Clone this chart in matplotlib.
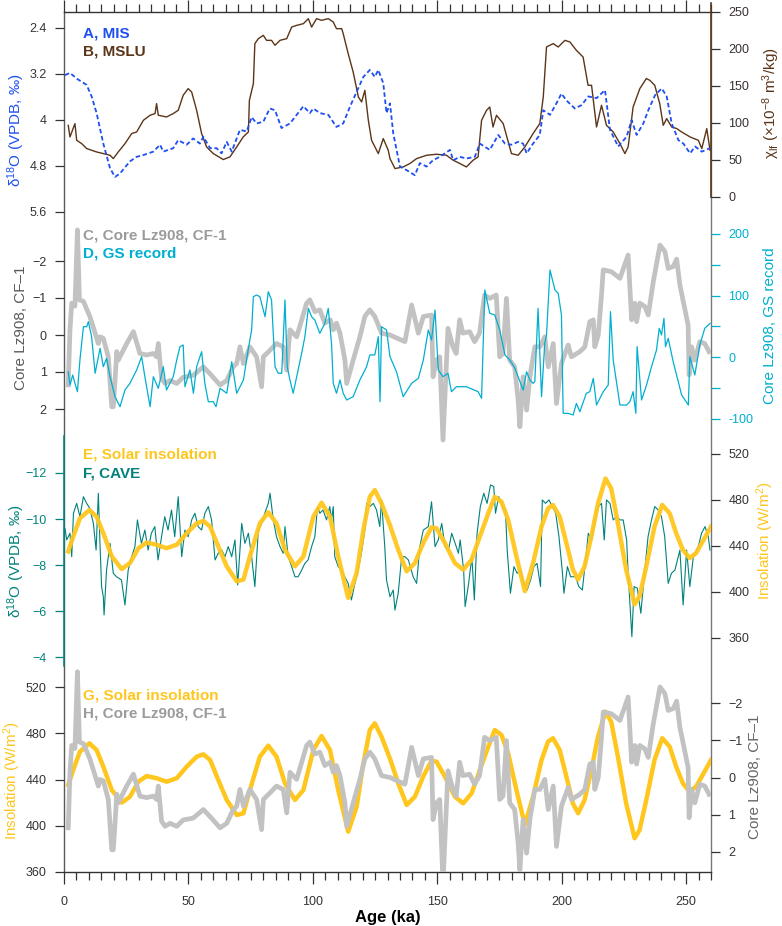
import matplotlib
matplotlib.use("Agg")
import matplotlib.pyplot as plt
from matplotlib.ticker import MultipleLocator

# ---------------- data ----------------
# A, MIS (benthic d18O stack)
mis_age = [0.4, 2.4, 5.1, 9.1, 11.1, 13.1, 15.8, 18.5, 20.5, 22.5,
           26.5, 29.2, 31.9, 35.9, 38.6, 39.9, 43.9, 45.9, 49.3, 51.9,
           54.6, 56.0, 58.7, 61.3, 63.3, 65.4, 67.4, 70.7, 73.4, 75.4,
           77.4, 80.1, 82.7, 84.8, 87.4, 90.8, 93.5, 96.2, 98.8, 100.2,
           102.8, 106.2, 109.5, 112.2, 114.9, 117.6, 120.3, 122.9, 124.9, 126.3,
           128.3, 129.6, 131.0, 132.3, 135.0, 137.6, 141.0, 143.0, 145.7, 148.3,
           151.0, 155.1, 156.4, 159.1, 161.7, 165.1, 167.1, 171.1, 174.5, 177.2,
           179.8, 182.5, 184.5, 185.9, 188.5, 191.2, 192.6, 195.3, 197.9, 199.9,
           201.9, 205.3, 208.0, 210.7, 214.0, 217.4, 219.4, 222.7, 226.1, 228.1,
           230.1, 232.8, 234.8, 237.5, 240.2, 242.2, 244.2, 246.9, 248.9, 251.6,
           253.6, 256.3, 259.6]
mis_d18o = [3.22, 3.18, 3.28, 3.39, 3.59, 3.88, 4.41, 4.84, 4.99, 4.93,
            4.72, 4.64, 4.61, 4.55, 4.43, 4.55, 4.49, 4.35, 4.43, 4.32,
            4.41, 4.29, 4.49, 4.49, 4.58, 4.38, 4.55, 4.17, 4.20, 3.95,
            4.06, 4.03, 3.80, 3.83, 4.14, 4.06, 3.91, 3.76, 3.88, 3.80,
            3.88, 3.91, 4.12, 4.06, 3.77, 3.51, 3.25, 3.13, 3.25, 3.13,
            3.36, 3.88, 3.71, 4.23, 4.81, 4.87, 4.96, 4.75, 4.81, 4.70,
            4.64, 4.52, 4.70, 4.64, 4.67, 4.64, 4.41, 4.52, 4.26, 4.41,
            4.43, 4.38, 4.41, 4.58, 4.41, 4.26, 3.83, 3.91, 3.71, 3.54,
            3.66, 3.80, 3.74, 3.59, 3.62, 3.48, 4.17, 4.46, 4.29, 4.00,
            4.26, 4.06, 3.83, 3.57, 3.45, 3.59, 4.06, 4.35, 4.41, 4.58,
            4.46, 4.55, 4.49]

# B, MSLU magnetic susceptibility
mslu_age = [1.7, 2.4, 4.4, 5.1, 7.1, 9.1, 11.1, 13.1, 15.8, 18.5,
            19.8, 21.8, 24.5, 27.2, 29.2, 31.9, 34.6, 36.6, 37.2, 37.9,
            41.2, 43.9, 45.9, 47.9, 49.9, 51.3, 53.3, 55.3, 57.3, 60.0,
            64.0, 66.7, 69.4, 72.0, 74.1, 74.5, 76.1, 76.7, 78.1, 80.1,
            81.4, 83.4, 84.8, 86.8, 89.5, 91.5, 93.5, 96.2, 98.2, 99.5,
            101.5, 103.5, 106.2, 108.2, 109.5, 111.6, 112.2, 114.2, 116.2, 118.3,
            119.6, 120.9, 122.3, 123.6, 126.3, 128.3, 130.3, 131.0, 133.0, 136.3,
            139.0, 141.7, 145.7, 149.7, 153.7, 156.4, 159.1, 161.7, 164.4, 166.4,
            167.8, 169.8, 171.1, 172.4, 173.8, 176.5, 179.8, 182.5, 185.2, 188.5,
            191.2, 192.6, 193.9, 196.6, 198.6, 201.3, 203.3, 205.9, 208.6, 210.6,
            212.0, 214.0, 216.0, 218.0, 220.7, 223.4, 225.4, 226.7, 228.7, 231.4,
            234.0, 235.4, 237.4, 239.4, 240.8, 242.2, 244.2, 246.2, 248.2, 251.6,
            254.9, 256.3, 258.3, 259.6]
mslu_chi = [96.5, 80.7, 98.8, 76.2, 71.7, 65.0, 62.7, 60.4, 58.2, 55.9,
            51.4, 60.4, 71.7, 85.3, 87.5, 103.3, 110.1, 112.4, 125.9, 110.1,
            107.8, 112.4, 116.8, 137.2, 146.2, 141.6, 116.8, 85.3, 67.2, 58.2,
            50.1, 53.8, 67.2, 80.7, 87.5, 130.4, 153.0, 207.2, 213.9, 218.4,
            211.6, 211.6, 204.9, 211.6, 213.9, 229.6, 231.9, 234.2, 241.0, 229.6,
            241.0, 238.7, 241.0, 236.4, 227.4, 227.4, 220.7, 193.6, 168.7, 134.9,
            128.1, 143.9, 103.3, 76.2, 58.2, 78.5, 62.7, 51.4, 37.9, 40.1,
            44.7, 51.4, 55.9, 57.3, 55.9, 49.2, 44.7, 40.1, 49.2, 53.6,
            103.3, 116.8, 121.3, 94.2, 110.1, 98.8, 58.2, 55.9, 67.2, 85.3,
            98.8, 134.9, 202.6, 207.2, 202.6, 211.6, 209.4, 198.1, 189.0, 150.7,
            150.7, 94.2, 123.6, 96.5, 87.5, 71.8, 58.2, 67.2, 121.3, 146.2,
            159.8, 157.5, 150.7, 125.9, 96.5, 105.6, 94.2, 92.1, 87.5, 80.7,
            76.2, 65.0, 92.1, 62.7]

# C / H, Core Lz908 CF-1
core_age = [1.7, 2.4, 3.1, 4.4, 5.4, 6.2, 7.8, 10.4, 13.8, 14.5,
            15.8, 17.8, 19.2, 19.8, 20.5, 21.2, 21.8, 25.2, 27.9, 30.5,
            33.2, 35.9, 37.2, 37.9, 39.2, 40.6, 42.6, 45.3, 47.9, 51.9,
            56.0, 58.7, 62.7, 65.4, 68.0, 69.4, 70.7, 72.1, 74.7, 77.4,
            79.4, 80.1, 82.8, 85.4, 88.1, 89.5, 90.8, 93.5, 95.5, 97.5,
            98.8, 100.8, 102.8, 104.8, 107.0, 108.2, 109.5, 110.9, 112.9, 113.6,
            116.2, 118.9, 120.9, 122.9, 124.9, 127.6, 131.0, 137.0, 139.7, 142.4,
            144.4, 147.7, 148.3, 149.7, 151.0, 152.3, 153.6, 154.3, 156.3, 157.6,
            159.0, 160.3, 163.0, 165.0, 167.0, 169.0, 171.1, 173.7, 175.1, 176.4,
            177.8, 179.1, 181.1, 182.5, 183.2, 184.5, 185.9, 187.2, 189.2, 191.2,
            193.2, 194.6, 196.6, 197.9, 199.9, 202.6, 203.9, 207.3, 209.3, 211.3,
            212.7, 213.3, 214.7, 216.0, 216.7, 220.0, 223.4, 226.7, 228.1, 229.4,
            230.1, 231.4, 233.4, 234.8, 236.8, 239.5, 241.5, 242.8, 244.8, 246.2,
            247.5, 250.8, 251.2, 252.2, 253.5, 255.5, 257.5, 259.2]
core_cf1 = [1.35, -0.14, -0.86, -0.78, -2.84, -0.95, -0.91, -0.50, 0.23, 0.05,
            0.09, 0.59, 1.94, 1.94, 1.23, 0.45, 0.68, 0.23, -0.09, 0.50,
            0.54, 0.50, 0.59, 0.23, 1.17, 1.31, 1.23, 1.31, 1.14, 1.09,
            0.86, 1.05, 1.35, 1.23, 0.86, 0.77, 0.32, 0.77, 0.32, 0.59,
            1.40, 0.59, 0.41, 0.23, 0.32, 0.95, -0.14, 0.05, -0.41, -0.86,
            -0.95, -0.63, -0.68, -0.32, -0.41, -0.14, -0.32, -0.05, 0.68, 1.31,
            0.68, 0.05, -0.50, -0.68, -0.50, -0.05, 0.00, 0.18, -0.81, -0.05,
            -0.50, -0.54, 1.13, 0.68, 0.59, 2.84, 0.86, -0.18, 0.32, 0.50,
            -0.41, -0.05, -0.09, 0.18, -0.05, -1.08, -0.99, -1.08, 0.59, 0.50,
            -0.99, 0.68, 0.86, 1.76, 2.48, 1.13, 2.03, 1.13, 0.32, 0.32,
            0.05, 0.86, 0.23, 1.85, 0.77, 0.27, 0.59, 0.45, 0.32, -0.36,
            -0.41, 0.32, 0.00, -1.08, -1.76, -1.71, -1.53, -2.16, -0.41, -0.86,
            -0.36, -0.86, -0.77, -0.54, -1.44, -2.43, -2.25, -1.80, -1.85, -2.05,
            -1.35, -0.27, 1.08, 0.32, 0.68, 0.18, 0.23, 0.45]

# D, GS record
gs_age = [1.7, 2.4, 3.5, 4.4, 5.4, 6.4, 7.8, 9.1, 9.8, 11.1,
          12.5, 14.5, 15.8, 17.1, 18.5, 20.5, 22.5, 24.5, 26.5, 29.2,
          31.2, 32.5, 34.6, 35.9, 37.9, 39.9, 41.2, 43.9, 45.3, 46.6,
          47.9, 48.6, 50.6, 52.0, 53.3, 55.3, 56.6, 58.0, 60.0, 61.1,
          62.7, 65.4, 67.4, 69.4, 72.1, 74.1, 75.4, 76.1, 77.4, 78.7,
          80.8, 82.1, 83.4, 84.8, 86.1, 87.5, 88.8, 89.7, 90.8, 92.1,
          94.1, 95.5, 96.8, 98.2, 99.5, 100.8, 102.8, 104.8, 106.2, 107.5,
          108.2, 109.5, 110.9, 112.2, 113.6, 116.2, 118.9, 121.6, 122.9, 124.9,
          126.3, 127.0, 127.6, 129.6, 131.0, 133.6, 136.3, 139.7, 142.4, 144.4,
          146.4, 147.7, 149.1, 150.4, 152.3, 154.3, 155.7, 157.7, 161.7, 166.4,
          167.8, 169.1, 171.1, 173.1, 175.1, 177.2, 179.2, 181.2, 182.5, 184.5,
          185.9, 187.2, 188.5, 189.2, 190.5, 191.9, 193.2, 193.9, 195.3, 197.3,
          198.6, 199.9, 200.6, 202.6, 204.6, 205.9, 207.3, 209.9, 211.3, 212.7,
          214.0, 216.7, 218.7, 219.6, 220.7, 223.4, 226.1, 227.4, 228.7, 229.8,
          230.3, 232.1, 234.1, 236.1, 238.1, 239.2, 240.1, 241.1, 241.7, 242.8,
          244.8, 248.2, 250.9, 251.5, 253.5, 255.5, 257.5, 259.6]
gs_val = [-23.9, -45.5, -29.3, -42.8, -56.4, -4.9, 49.3, 49.3, 57.4, 33.0,
          -26.5, 14.1, -15.8, -2.1, -32.0, -64.5, -80.8, -53.7, -42.8, -21.1,
          0.5, -32.0, -80.8, -32.0, -50.9, -15.8, -53.7, -32.0, -4.9, 16.8,
          19.5, -48.3, -21.1, -59.0, -15.8, 8.6, -42.8, -72.7, -72.7, -80.8,
          -50.9, -59.0, -7.6, -59.0, -37.4, 14.1, 43.9, 98.1, 100.8, 98.1,
          65.5, 106.2, 92.7, -15.8, -26.5, -26.5, 92.7, -15.8, -37.4, -59.0,
          -21.1, 6.0, 33.0, 79.1, 65.5, 60.1, 38.5, 54.7, 79.1, 22.3,
          -42.8, -59.0, -37.4, -59.0, -69.9, -64.5, -37.4, -15.8, 3.3, 3.3,
          33.0, -72.7, 49.3, 43.9, 0.5, -23.9, -64.5, -42.8, -34.7, -4.9,
          43.9, 27.6, 76.4, -21.1, -32.0, -26.5, -56.4, -48.3, -48.3, -56.4,
          -67.2, 108.9, 71.0, 68.3, 43.9, 3.3, -4.9, -18.4, -32.0, -53.7,
          -23.9, -37.4, -42.8, -40.0, 79.1, -64.5, 22.3, 35.8, 141.5, 108.9,
          103.5, 68.3, -91.6, -91.6, -94.3, -75.4, -89.0, -59.0, -56.4, -34.7,
          -78.1, -56.4, -45.5, 73.7, -4.9, -78.1, -78.1, -72.7, -56.4, -91.6,
          16.8, -69.9, -45.5, -15.8, 11.4, 46.6, 35.8, 62.9, 16.8, 30.4,
          -7.6, -61.8, -78.1, 0.5, -29.3, 19.6, 46.6, 54.7]

# E / G, solar insolation
ins_age = [1.7, 3.7, 6.4, 10.2, 13.1, 15.8, 19.2, 23.2, 26.5, 29.9,
           33.2, 37.2, 41.2, 45.3, 49.3, 53.3, 56.0, 58.7, 62.0, 65.4,
           69.4, 72.1, 74.7, 78.7, 82.1, 85.4, 88.8, 92.8, 96.2, 100.2,
           103.5, 106.9, 110.2, 114.2, 117.6, 120.3, 122.9, 124.9, 127.6, 131.0,
           134.3, 137.7, 141.0, 144.3, 147.7, 149.7, 153.1, 157.1, 160.4, 163.8,
           167.1, 170.5, 173.1, 175.8, 178.5, 181.8, 185.2, 188.5, 191.9, 194.5,
           196.5, 199.2, 201.9, 204.5, 206.6, 209.2, 211.9, 214.6, 217.6, 219.9,
           222.6, 225.9, 229.3, 231.3, 234.0, 237.3, 240.4, 243.4, 246.0, 248.7,
           251.4, 254.0, 257.4, 260.0]
ins_val = [435.3, 448.2, 464.1, 471.3, 465.5, 451.1, 430.9, 420.0, 425.1, 438.1,
           443.0, 441.1, 438.1, 441.1, 451.1, 459.7, 461.8, 456.9, 439.6, 422.3,
           409.3, 410.8, 430.9, 459.7, 469.3, 459.7, 436.7, 422.3, 430.9, 465.5,
           477.6, 465.5, 430.9, 394.9, 416.5, 454.0, 482.8, 488.6, 477.0, 458.0,
           436.7, 418.0, 425.1, 442.4, 456.3, 455.4, 442.4, 425.1, 419.4, 428.1,
           448.2, 468.4, 482.8, 478.5, 462.7, 430.9, 400.7, 425.1, 456.9, 472.7,
           475.7, 465.5, 442.4, 419.4, 410.8, 422.3, 448.2, 477.0, 498.7, 490.0,
           459.7, 419.4, 389.2, 396.3, 422.3, 456.9, 475.7, 468.4, 451.1, 436.7,
           429.5, 433.8, 446.8, 456.9]

# F, CAVE speleothem d18O
cave_age = [0.4, 1.1, 2.4, 3.1, 3.8, 5.1, 6.4, 7.8, 9.1, 10.4,
            11.8, 12.9, 13.8, 14.5, 15.1, 15.8, 16.1, 17.1, 18.5, 19.8,
            21.1, 23.1, 24.5, 25.8, 27.2, 28.5, 29.5, 31.1, 32.5, 33.8,
            35.1, 36.5, 37.8, 39.2, 40.5, 41.8, 43.2, 44.5, 45.9, 47.3,
            48.6, 49.9, 51.3, 52.6, 53.9, 55.3, 56.6, 58.0, 59.3, 60.7,
            62.0, 63.4, 64.7, 66.0, 67.4, 68.7, 69.8, 71.4, 72.7, 74.1,
            75.4, 76.7, 78.1, 79.4, 80.7, 82.1, 82.8, 84.1, 85.4, 86.8,
            88.1, 88.8, 90.1, 91.5, 92.8, 94.1, 95.5, 96.8, 98.1, 99.5,
            100.8, 101.9, 102.8, 104.1, 105.5, 106.8, 107.5, 108.2, 108.8, 110.2,
            111.5, 112.8, 114.2, 115.5, 116.9, 118.2, 119.5, 120.9, 121.6, 122.9,
            124.3, 125.6, 126.9, 127.6, 128.9, 129.6, 131.0, 132.3, 133.0, 134.3,
            135.7, 137.0, 138.4, 140.3, 141.7, 143.0, 144.4, 146.4, 147.7, 149.1,
            150.4, 151.8, 153.1, 154.5, 155.8, 157.2, 158.5, 159.2, 160.6, 161.2,
            162.6, 163.9, 164.9, 166.0, 167.3, 168.7, 170.0, 171.4, 172.7, 173.4,
            174.7, 176.1, 177.4, 178.1, 179.4, 180.8, 182.1, 183.4, 184.8, 186.1,
            187.5, 188.8, 190.1, 191.5, 192.2, 193.5, 194.9, 196.2, 197.6, 198.9,
            200.2, 200.9, 202.3, 203.6, 205.6, 206.9, 208.3, 209.6, 210.7, 212.0,
            213.4, 214.7, 216.0, 217.1, 218.0, 219.4, 220.7, 222.1, 223.4, 224.7,
            226.1, 226.7, 227.8, 228.2, 229.1, 230.4, 231.8, 233.4, 234.7, 236.1,
            237.4, 238.8, 240.1, 241.4, 242.8, 244.1, 245.5, 247.5, 248.8, 250.2,
            251.5, 252.9, 254.9, 256.2, 257.6, 258.9, 259.6]
cave_d18o = [-9.59, -9.09, -9.38, -8.36, -10.25, -10.68, -10.10, -10.97, -10.68, -10.46,
             -9.81, -8.65, -11.12, -8.80, -7.06, -6.62, -5.83, -7.78, -8.94, -7.64,
             -7.49, -7.35, -6.26, -7.78, -8.36, -8.80, -9.96, -8.94, -9.52, -8.65,
             -9.38, -9.67, -8.22, -9.23, -10.10, -9.52, -10.39, -9.23, -10.97, -8.36,
             -9.52, -9.23, -9.96, -10.25, -9.67, -9.52, -10.25, -10.54, -9.96, -8.22,
             -8.51, -8.65, -8.36, -8.80, -8.36, -9.09, -7.13, -9.81, -8.94, -9.38,
             -8.36, -7.06, -9.52, -9.81, -10.25, -10.68, -11.12, -9.96, -9.23, -8.80,
             -8.51, -9.67, -8.36, -7.93, -7.49, -7.49, -7.78, -8.07, -8.22, -8.80,
             -9.23, -10.54, -10.25, -10.39, -9.96, -10.54, -9.96, -10.54, -8.36, -7.93,
             -7.78, -7.49, -7.20, -6.48, -7.20, -7.78, -8.51, -9.52, -10.68, -10.54,
             -10.68, -10.39, -9.67, -10.83, -8.80, -7.35, -6.62, -6.91, -6.04, -6.77,
             -8.36, -8.36, -8.22, -7.49, -7.20, -8.80, -9.52, -9.67, -10.75, -8.80,
             -9.09, -9.81, -8.80, -8.65, -9.38, -8.94, -8.51, -9.09, -7.78, -6.19,
             -7.20, -8.36, -6.48, -9.38, -10.54, -11.12, -10.68, -11.48, -11.41, -10.25,
             -10.97, -10.54, -10.39, -8.65, -6.77, -7.93, -7.64, -7.78, -7.20, -6.91,
             -7.35, -7.93, -8.07, -7.06, -10.83, -10.68, -10.83, -10.54, -10.25, -9.23,
             -7.78, -6.77, -7.93, -7.49, -7.49, -7.06, -6.91, -8.22, -9.38, -9.09,
             -10.10, -10.54, -10.68, -9.09, -10.83, -10.68, -9.96, -10.10, -9.96, -9.96,
             -9.09, -7.64, -5.61, -4.88, -7.06, -6.99, -5.90, -7.78, -9.23, -9.96,
             -10.54, -10.39, -10.10, -9.23, -7.20, -7.64, -7.78, -8.65, -6.26, -8.65,
             -7.06, -8.36, -8.80, -9.38, -9.67, -9.23, -8.65]

# ---------------- colours ----------------
BLUE = "#1f4ff0"
BROWN = "#5b3519"
GREY = "#c2c2c2"
CYAN = "#00afd0"
TEAL = "#00827c"
GOLD = "#ffc61e"
DARK = "#333333"

plt.rcParams["font.family"] = ["Liberation Sans", "DejaVu Sans"]
plt.rcParams["mathtext.fontset"] = "custom"
plt.rcParams["mathtext.rm"] = "Liberation Sans"
plt.rcParams["mathtext.it"] = "Liberation Sans:italic"
plt.rcParams["mathtext.bf"] = "Liberation Sans:bold"

W, H = 782, 926
X0, X1, Y0, Y1 = 64, 711, 12, 872   # plot box in pixels
fig = plt.figure(figsize=(W / 100, H / 100), dpi=100)
rect = [X0 / W, 1 - Y1 / H, (X1 - X0) / W, (Y1 - Y0) / H]


def lims(v1, p1, v2, p2):
    # y-limits so that value v1 sits at pixel row p1 and v2 at p2
    k = (v2 - v1) / (p2 - p1)
    return v1 + (Y1 - p1) * k, v1 + (Y0 - p1) * k


def overlay(ylim, side, ticks, labels, tcolor, lcolor):
    ax = fig.add_axes(rect, facecolor="none")
    ax.set_xlim(0, 260)
    ax.set_ylim(*ylim)
    for s in ax.spines.values():
        s.set_visible(False)
    ax.xaxis.set_visible(False)
    if side == "right":
        ax.yaxis.tick_right()
    else:
        ax.yaxis.tick_left()
    ax.set_yticks(ticks)
    ax.set_yticklabels(labels)
    ax.tick_params(axis="y", direction="out", length=6.5, width=0.9, pad=6,
                   color=tcolor, labelcolor=lcolor, labelsize=9)
    return ax


# base axis: frame + age ticks
base = fig.add_axes(rect, facecolor="none")
base.set_xlim(0, 260)
base.set_yticks([])
base.xaxis.set_major_locator(MultipleLocator(50))
base.xaxis.set_minor_locator(MultipleLocator(5))
base.tick_params(axis="x", which="both", top=True, bottom=True, direction="out",
                 color=DARK, labelcolor=DARK, labelsize=9, width=0.9)
base.tick_params(axis="x", which="major", length=8.5, pad=9)
base.tick_params(axis="x", which="minor", length=5.5)
base.spines["left"].set_color("#5a5a5a")
base.spines["right"].set_color("#777777")
base.spines["top"].set_color(DARK)
base.spines["bottom"].set_color(DARK)
for s in base.spines.values():
    s.set_linewidth(1.0)
base.set_xlabel("Age (ka)", fontsize=12, fontweight="bold", labelpad=1)

# B: MSLU (right)
axB = overlay(lims(0, 196.3, 250, 11.7), "right", [0, 50, 100, 150, 200, 250],
              ["0", "50", "100", "150", "200", "250"], DARK, "#3a3030")
axB.spines["right"].set_visible(True)
axB.spines["right"].set_color(BROWN)
axB.spines["right"].set_linewidth(1.2)
axB.spines["right"].set_bounds(0, 262)
axB.plot(mslu_age, mslu_chi, color=BROWN, lw=1.0)

# A: MIS (left)
axA = overlay(lims(2.4, 28, 5.6, 212), "left", [2.4, 3.2, 4.0, 4.8, 5.6],
              ["2.4", "3.2", "4", "4.8", "5.6"], DARK, DARK)
axA.plot(mis_age, mis_d18o, color=BLUE, lw=1.3, ls=(0, (2.5, 1.5)))

# C: Core Lz908 (left)
axC = overlay(lims(-2, 261, 2, 409), "left", [-2, -1, 0, 1, 2],
              ["\u22122", "\u22121", "0", "1", "2"], DARK, DARK)
axC.plot(core_age, core_cf1, color=GREY, lw=3.4, solid_joinstyle="round")

# D: GS record (right)
axD = overlay(lims(200, 234, -100, 418.5), "right", [-100, -50, 0, 50, 100, 150, 200],
              ["-100", "", "0", "", "100", "", "200"], CYAN, CYAN)
axD.plot(gs_age, gs_val, color=CYAN, lw=0.9)

# F: CAVE (left)
axF = overlay(lims(-12, 473, -4, 657), "left", [-12, -10, -8, -6, -4],
              ["\u221212", "\u221210", "\u22128", "\u22126", "\u22124"], TEAL, TEAL)
axF.spines["left"].set_visible(True)
axF.spines["left"].set_color(TEAL)
axF.spines["left"].set_linewidth(1.1)
axF.spines["left"].set_bounds(-13.6, -3.6)
axF.plot(cave_age, cave_d18o, color=TEAL, lw=0.8)

# E: insolation (right)
axE = overlay(lims(520, 454, 360, 638), "right", [360, 400, 440, 480, 520],
              ["360", "400", "440", "480", "520"], DARK, DARK)
axE.plot(ins_age, ins_val, color=GOLD, lw=3.2, alpha=0.95, solid_joinstyle="round")

# G: insolation (left)
axG = overlay(lims(520, 687, 360, 872), "left", [360, 400, 440, 480, 520],
              ["360", "400", "440", "480", "520"], DARK, DARK)
axG.plot(ins_age, ins_val, color=GOLD, lw=3.2, solid_joinstyle="round")

# H: Core Lz908 (right)
axH = overlay(lims(-2, 703, 2, 852), "right", [-2, -1, 0, 1, 2],
              ["\u22122", "\u22121", "0", "1", "2"], DARK, DARK)
axH.plot(core_age, core_cf1, color=GREY, lw=3.4, solid_joinstyle="round")


def ftext(x, y, s, **kw):
    fig.text(x / W, 1 - y / H, s, **kw)


# axis titles
vkw = dict(rotation=90, ha="center", va="center", fontsize=11)
ftext(16, 130, "\u03b4$^{18}$O (VPDB, \u2030)", color=BLUE, **vkw)
ftext(771, 103, "\u03c7$_{\\mathrm{lf}}$ (\u00d710$^{-8}$ m$^3$/kg)", color=BROWN, **vkw)
ftext(21, 328, "Core Lz908, CF\u20131", color="#5a5a5a", **vkw)
ftext(770, 326, "Core Lz908, GS record", color=CYAN, **vkw)
ftext(16, 561, "\u03b4$^{18}$O (VPDB, \u2030)", color=TEAL, **vkw)
ftext(765, 541, "Insolation (W/m$^2$)", color=GOLD, **vkw)
ftext(12, 781, "Insolation (W/m$^2$)", color=GOLD, **vkw)
ftext(755, 777, "Core Lz908, CF\u20131", color="#666666", **vkw)

# series labels
lkw = dict(ha="left", va="center", fontsize=11, fontweight="bold")
ftext(83, 33, "A, MIS", color=BLUE, **lkw)
ftext(83, 52, "B, MSLU", color=BROWN, **lkw)
ftext(83, 235, "C, Core Lz908, CF-1", color="#9b9b9b", **lkw)
ftext(83, 253, "D, GS record", color=CYAN, **lkw)
ftext(83, 455, "E, Solar insolation", color=GOLD, **lkw)
ftext(83, 474, "F, CAVE", color=TEAL, **lkw)
ftext(83, 695, "G, Solar insolation", color=GOLD, **lkw)
ftext(83, 713, "H, Core Lz908, CF-1", color="#9b9b9b", **lkw)

fig.savefig("out.png", dpi=100)
